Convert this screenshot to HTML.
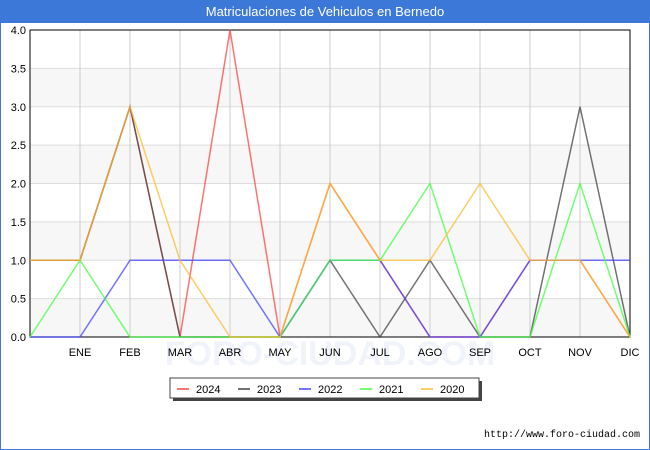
<!DOCTYPE html>
<html><head><meta charset="utf-8"><style>
body{margin:0;width:650px;height:450px;overflow:hidden;font-family:"Liberation Sans",sans-serif;}
#wrap{position:relative;width:648px;height:448px;border:1px solid #3c78d8;background:#fff;}
#title{position:absolute;left:0;top:0;width:648px;height:22px;background:#3c78d8;color:#fff;font-size:13px;text-align:center;line-height:22px;}
</style></head><body>
<div id="wrap">
<div id="title">Matriculaciones de Vehiculos en Bernedo</div>
<svg id="chart" width="650" height="450" style="position:absolute;left:-1px;top:-1px"></svg>
</div>
<script>
const categories=["","ENE","FEB","MAR","ABR","MAY","JUN","JUL","AGO","SEP","OCT","NOV","DIC"];
const yTicks=["0.0","0.5","1.0","1.5","2.0","2.5","3.0","3.5","4.0"];
const seriesNames=["2024","2023","2022","2021","2020"];
const s2024=[1,1,3,0,4,0,2,1,0,0,1,1,0];
const s2023=[1,1,3,0,0,0,1,0,1,0,0,3,0];
const s2022=[0,0,1,1,1,0,1,1,0,0,1,1,1];
const s2021=[0,1,0,0,0,0,1,1,2,0,0,2,0];
const s2020=[1,1,3,1,0,0,2,1,1,2,1,1,0];
const colors=["#ff4444","#444444","#4444ff","#44ff44","#ffbb33"];
const NS="http://www.w3.org/2000/svg";
const svg=document.getElementById('chart');
const L=30,R=630,T=30,B=337,yMax=4;
const x=i=>L+(R-L)*i/(categories.length-1);
const y=v=>B-(B-T)*v/yMax;
function mk(t,a){const e=document.createElementNS(NS,t);for(const k in a)e.setAttribute(k,a[k]);svg.appendChild(e);return e;}
for(let i=0;i<8;i++){if(i%2==0){const b=mk('rect',{x:L,y:y((i+1)*0.5),width:R-L,height:y(i*0.5)-y((i+1)*0.5),fill:'#f7f7f7'});

}}
const wm=mk('text',{x:330,y:365,'text-anchor':'middle','font-size':34,fill:'#f1f3fa','font-weight':'bold'});wm.textContent='FORO-CIUDAD.COM';


yTicks.forEach((t,i)=>{const v=parseFloat(t);
const g=mk('line',{x1:L,x2:R,y1:y(v),y2:y(v),stroke:'#dddddd'});


const tx=mk('text',{x:L-4,y:y(v)+4,'text-anchor':'end','font-size':11,fill:'#000'});tx.textContent=t;

});
categories.forEach((c,i)=>{
const g=mk('line',{x1:x(i),x2:x(i),y1:T,y2:B,stroke:'#cccccc'});


const tx=mk('text',{x:x(i),y:356,'text-anchor':'middle','font-size':11,fill:'#000'});tx.textContent=c;

});
const fr=mk('rect',{x:L,y:T,width:R-L,height:B-T,fill:'none',stroke:'#000'});


[s2024,s2023,s2022,s2021,s2020].forEach((s,k)=>{
const p=mk('polyline',{points:s.map((v,i)=>x(i)+','+y(v)).join(' '),fill:'none',stroke:colors[k],'stroke-width':1.5,opacity:0.75});

});
const sh=mk('rect',{x:173,y:381,width:309,height:20,fill:'#444'});


const lg=mk('rect',{x:170,y:378,width:309,height:20,fill:'#fff',stroke:'#444'});


seriesNames.forEach((n,k)=>{const lx=177+k*61;
const ln=mk('line',{x1:lx,x2:lx+12,y1:389,y2:389,stroke:colors[k],'stroke-width':1.5});


const t=mk('text',{x:lx+19,y:393,'font-size':11,fill:'#000'});t.textContent=n;

});
const ft=mk('text',{x:640,y:437,'text-anchor':'end','font-size':10,fill:'#000','font-family':'Liberation Mono, monospace'});ft.textContent='http://www.foro-ciudad.com';


</script>
</body></html>
